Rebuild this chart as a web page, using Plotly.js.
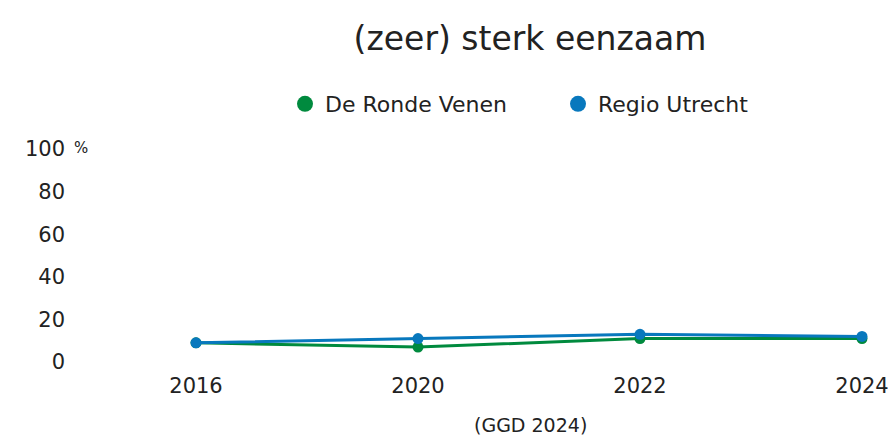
<!DOCTYPE html>
<html>
<head>
<meta charset="utf-8">
<script src="https://cdn.plot.ly/plotly-3.0.1.min.js"></script>
<style>html,body{margin:0;padding:0;background:#fff;}#chart{width:888px;height:437px;}</style>
</head>
<body>
<div id="chart"></div>
<script>
const years = ["2016", "2020", "2022", "2024"];
const rondeVenen = [9, 7, 11, 11];
const regioUtrecht = [9, 11, 13, 12];
const seriesNames = ["De Ronde Venen", "Regio Utrecht"];
const colors = ["#008a3e", "#0878bd"];
const yTickVals = [0, 20, 40, 60, 80, 100];
const yTickText = ["0", "20", "40", "60", "80", "100"];

const FONT = "'DejaVu Sans', sans-serif";
const allSeries = [rondeVenen, regioUtrecht];

const traces = [];
allSeries.forEach((vals, i) => {
  traces.push({
    x: years, y: vals, type: "scatter", mode: "lines+markers",
    name: seriesNames[i], showlegend: false,
    line: {color: colors[i], width: 3},
    marker: {color: colors[i], size: 11},
    cliponaxis: false
  });
});
allSeries.forEach((vals, i) => {
  traces.push({
    x: [null], y: [null], type: "scatter", mode: "markers",
    name: seriesNames[i], showlegend: true,
    marker: {color: colors[i], size: 22}
  });
});

const layout = {
  width: 888, height: 437,
  margin: {l: 85, r: 0, t: 149, b: 75},
  paper_bgcolor: "#fff", plot_bgcolor: "#fff",
  font: {family: FONT, color: "#222", size: 21},
  title: {text: "(zeer) sterk eenzaam", font: {size: 33, color: "#222", family: FONT},
          x: 530/888, xref: "container", xanchor: "center", y: 1 - 38/437, yref: "container", yanchor: "middle"},
  showlegend: true,
  legend: {orientation: "h", x: 558/888, xref: "container", xanchor: "center", y: 1 - 104/437, yref: "container", yanchor: "middle",
           font: {size: 22, color: "#222", family: FONT}, itemsizing: "trace", itemclick: false,
           entrywidth: 228, entrywidthmode: "pixels"},
  xaxis: {type: "category", range: [-0.5, -0.5 + 803/222], showgrid: false, zeroline: false, showline: false,
          ticks: "", ticklabelstandoff: 9, tickfont: {size: 21, color: "#222"}, fixedrange: true},
  yaxis: {range: [0, 100], tickvals: yTickVals, ticktext: yTickText, showgrid: false, zeroline: false, showline: false,
          ticks: "", ticklabelstandoff: 19, tickfont: {size: 21, color: "#222"}, fixedrange: true},
  annotations: [
    {text: "%", xref: "paper", yref: "paper", x: 0, y: 1, xshift: -4, yshift: 1, xanchor: "center", yanchor: "middle",
     showarrow: false, font: {size: 15, color: "#222"}},
    {text: "(GGD 2024)", xref: "paper", yref: "paper", x: (530 - 85) / 803, y: (362 - 425) / 213, xanchor: "center", yanchor: "middle",
     showarrow: false, font: {size: 19, color: "#222"}}
  ]
};

Plotly.newPlot("chart", traces, layout, {displayModeBar: false, staticPlot: true});
</script>
</body>
</html>
